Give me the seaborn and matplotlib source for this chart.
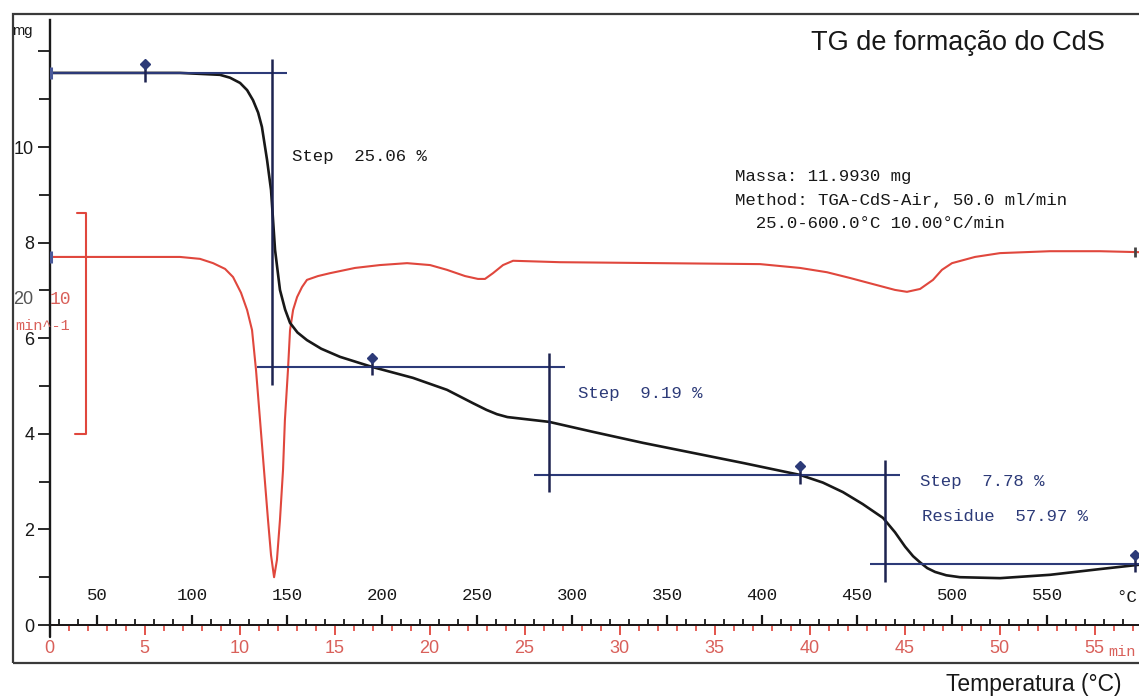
import numpy as np
import pandas as pd
import matplotlib
matplotlib.use("Agg")
import matplotlib.pyplot as plt
import seaborn as sns
from matplotlib.patches import Rectangle
from matplotlib.ticker import MultipleLocator, FixedLocator

# ---------------- data ----------------
# TG curve: sample mass (mg) against furnace temperature (°C)
tg_temp = [25.0, 93.7, 114.7, 120.0, 125.3, 129.0, 132.1, 134.8, 136.8, 139.5,
           141.6, 143.7, 146.3, 149.0, 151.6, 155.5, 160.5, 168.0, 177.9, 194.7,
           216.3, 234.2, 247.9, 255.0, 260.5, 266.0, 272.6, 287.9, 311.1, 337.4,
           363.7, 390.0, 420.0, 432.0, 442.6, 453.0, 463.7, 470.0, 475.3, 479.5,
           483.2, 487.0, 491.1, 497.0, 504.2, 525.3, 551.6, 577.9, 598.4]
tg_mass = [11.55, 11.55, 11.51, 11.45, 11.34, 11.19, 10.98, 10.72, 10.42, 9.73,
           9.10, 7.85, 7.01, 6.60, 6.32, 6.12, 5.96, 5.78, 5.61, 5.40,
           5.17, 4.92, 4.64, 4.50, 4.41, 4.35, 4.32, 4.25, 4.04, 3.81,
           3.60, 3.39, 3.14, 2.98, 2.78, 2.53, 2.24, 1.94, 1.64, 1.44,
           1.31, 1.19, 1.11, 1.04, 1.00, 0.98, 1.05, 1.17, 1.26]

# DTG signal, drawn on the mass scale
dtg_temp = [25.0, 77.9, 93.7, 104.2, 111.1, 117.4, 121.6, 125.8, 129.0, 131.6,
            133.7, 135.8, 137.9, 140.0, 141.6, 143.2, 144.7, 146.3, 147.9, 148.9,
            150.5, 151.6, 153.2, 155.3, 157.9, 160.5, 166.3, 172.6, 185.8, 198.9,
            213.2, 225.3, 234.2, 243.7, 250.5, 254.2, 258.4, 263.7, 269.0, 293.7,
            346.3, 399.0, 420.0, 434.2, 446.3, 460.5, 470.0, 476.3, 483.2, 490.0,
            494.7, 500.0, 512.1, 525.3, 551.6, 577.9, 598.4]
dtg_signal = [7.70, 7.70, 7.70, 7.66, 7.57, 7.45, 7.28, 6.95, 6.59, 6.17,
              5.33, 4.29, 3.24, 2.20, 1.46, 1.00, 1.36, 2.20, 3.24, 4.29,
              5.33, 6.17, 6.59, 6.86, 7.07, 7.22, 7.30, 7.36, 7.47, 7.53,
              7.57, 7.53, 7.43, 7.30, 7.24, 7.24, 7.36, 7.53, 7.62, 7.59,
              7.57, 7.55, 7.47, 7.38, 7.26, 7.11, 7.01, 6.97, 7.03, 7.22,
              7.43, 7.57, 7.70, 7.78, 7.82, 7.82, 7.80]

# step evaluation: horizontal levels (start T, end T, mass) and vertical limits (T, low, high)
step_levels = [(25.0, 150.0, 11.55), (134.2, 296.3, 5.40),
               (280.0, 472.6, 3.14), (456.8, 598.4, 1.28)]
step_limits = [(142.1, 5.02, 11.84), (287.9, 2.78, 5.69), (464.7, 0.90, 3.45)]
step_points_temp = [75.3, 194.7, 420.0, 596.5]
step_points_mass = [11.55, 5.40, 3.14, 1.28]

step_labels = ["Step  25.06 %", "Step  9.19 %", "Step  7.78 %", "Residue  57.97 %"]
method_lines = ["Massa: 11.9930 mg", "Method: TGA-CdS-Air, 50.0 ml/min",
                "  25.0-600.0°C 10.00°C/min"]

mass_ticks = [0, 2, 4, 6, 8, 10, 12]
mass_tick_labels = ["0", "2", "4", "6", "8", "10", ""]
time_ticks = [0, 5, 10, 15, 20, 25, 30, 35, 40, 45, 50, 55]

# ---------------- style ----------------
sns.set_theme(style="white")
plt.rcParams["font.family"] = ["Liberation Sans", "DejaVu Sans"]
MONO = ["Liberation Mono", "DejaVu Sans Mono"]

BLACK = "#181818"
RED = "#e0473d"
RED_TXT = "#d9605a"
NAVY = "#2c3a78"
NAVY_DARK = "#1d2350"

W, H = 1139, 697
fig = plt.figure(figsize=(W / 100, H / 100), dpi=100)
fig.patch.set_facecolor("white")

# page frame
fig.add_artist(Rectangle((13 / W, (H - 663) / H), (W + 20 - 13) / W, (663 - 14) / H,
                         transform=fig.transFigure, fill=False, lw=1.6,
                         ec="#3a3a3a"))

ax = fig.add_axes([49.5 / W, (H - 625) / H, (W - 49.5) / W, (625 - 20) / H])
ax.set_facecolor("none")
ax.set_xlim(25, 25 + (W - 49.5) / 1.9)
ax.set_ylim(0, (625 - 20) / 47.8)

tg = pd.DataFrame({"T": tg_temp, "mass": tg_mass})
dtg = pd.DataFrame({"T": dtg_temp, "signal": dtg_signal})

sns.lineplot(data=dtg, x="T", y="signal", ax=ax, color=RED, lw=1.5,
             estimator=None, sort=False, zorder=3)
sns.lineplot(data=tg, x="T", y="mass", ax=ax, color=BLACK, lw=1.9,
             estimator=None, sort=False, zorder=4)

# step evaluation lines
for t0, t1, m in step_levels:
    ax.hlines(m, t0, t1, color=NAVY, lw=1.5, zorder=5)
for t, lo, hi in step_limits:
    ax.vlines(t, lo, hi, color=NAVY_DARK, lw=1.8, zorder=5)
for t, m in zip(step_points_temp, step_points_mass):
    ax.vlines(t, m - 0.18, m + 0.15, color=NAVY_DARK, lw=1.8, zorder=6)
    ax.plot([t], [m + 0.18], marker="D", ms=5, color=NAVY, zorder=6)

# curve start/end markers
ax.plot([25.8, 25.8], [11.55, 7.70], ls="none", marker="|", ms=9, mew=2.2,
        color="#4a5a9a", zorder=6, clip_on=False)
ax.plot([596.5], [7.80], ls="none", marker="|", ms=7, mew=2, color="#444444",
        zorder=6)

# step annotations
ax.text(152.6, 9.81, step_labels[0], family=MONO, fontsize=12.5, color=BLACK,
        va="center", ha="left")
ax.text(303.2, 4.85, step_labels[1], family=MONO, fontsize=12.5, color=NAVY,
        va="center", ha="left")
ax.text(483.2, 3.01, step_labels[2], family=MONO, fontsize=12.5, color=NAVY,
        va="center", ha="left")
ax.text(484.2, 2.28, step_labels[3], family=MONO, fontsize=12.5, color=NAVY,
        va="center", ha="left")

for i, line in enumerate(method_lines):
    ax.text(385.7, 9.39 - 0.5 * i, line, family=MONO, fontsize=12.5,
            color=BLACK, va="center", ha="left")

# DTG scale bracket
ax.plot([39.5, 44.2, 44.2, 38.4], [8.62, 8.62, 4.00, 4.00], color=RED, lw=1.5,
        zorder=3)
ax.text(31.0, 6.80, "10", color=RED_TXT, fontsize=13, family=MONO,
        ha="center", va="center")
ax.text(11.0, 6.80, "20", color="#555555", fontsize=13, ha="center",
        va="center", clip_on=False)
ax.text(36.0, 6.26, "min^-1", color=RED_TXT, fontsize=11, family=MONO,
        ha="right", va="center", clip_on=False)

# axes: mass (left) and temperature (on the zero line)
for side in ("top", "right"):
    ax.spines[side].set_visible(False)
ax.spines["left"].set_color(BLACK)
ax.spines["left"].set_linewidth(1.7)
ax.spines["bottom"].set_color(BLACK)
ax.spines["bottom"].set_linewidth(1.4)
ax.plot([25, 25], [-0.25, 0], color=BLACK, lw=1.7, clip_on=False)

ax.yaxis.set_major_locator(FixedLocator(mass_ticks))
ax.set_yticklabels(mass_tick_labels)
ax.yaxis.set_minor_locator(MultipleLocator(1))
ax.tick_params(axis="y", which="major", direction="out", length=9, width=1.3,
               labelsize=13, pad=2, colors=BLACK, left=True)
ax.tick_params(axis="y", which="minor", direction="out", length=8, width=1.3,
               colors=BLACK, left=True)

ax.xaxis.set_major_locator(MultipleLocator(50))
ax.xaxis.set_minor_locator(MultipleLocator(10))
ax.tick_params(axis="x", which="major", direction="in", length=7, width=1.6,
               pad=-27, labelsize=12.5, labelfontfamily="Liberation Mono",
               colors=BLACK, bottom=True)
ax.tick_params(axis="x", which="minor", direction="in", length=4, width=1.3,
               colors=BLACK, bottom=True)
ax.set_xlabel("")
ax.set_ylabel("")
ax.text(586.3, 0.58, "°C", family=MONO, fontsize=12.5, color=BLACK,
        ha="left", va="center", clip_on=False)

# time axis (10 °C/min from 25 °C)
secax = ax.secondary_xaxis("bottom", functions=(lambda T: (T - 25) / 10,
                                                lambda t: t * 10 + 25))
secax.xaxis.set_major_locator(FixedLocator(time_ticks))
secax.xaxis.set_minor_locator(MultipleLocator(1))
secax.spines["bottom"].set_color(RED)
secax.spines["bottom"].set_linewidth(1.3)
secax.tick_params(axis="x", which="major", direction="out", length=7, width=1.3,
                  colors=RED, labelcolor=RED_TXT, labelsize=13, pad=4)
secax.tick_params(axis="x", which="minor", direction="out", length=4.5,
                  width=1.2, colors=RED)
ax.text(582.2, -0.57, "min", family=MONO, fontsize=11, color=RED_TXT,
        ha="left", va="center", clip_on=False)

# labels
fig.text(12 / W, 1 - 31 / H, "mg", fontsize=10.5, color=BLACK, va="center",
         ha="left")
fig.text(1105 / W, 1 - 43 / H, "TG de formação do CdS", fontsize=19.5,
         color=BLACK, ha="right", va="center")
fig.text(1122 / W, 1 - 685 / H, "Temperatura (°C)", fontsize=16.5,
         color=BLACK, ha="right", va="center")

fig.savefig("out.png", dpi=100, facecolor="white")
